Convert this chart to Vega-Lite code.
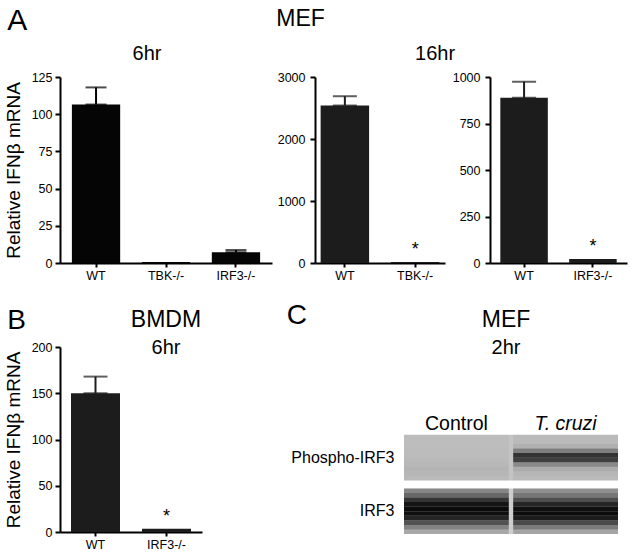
{
  "$schema": "https://vega.github.io/schema/vega-lite/v6.json",
  "background": "white",
  "padding": {"left": 4, "top": 6, "right": 5, "bottom": 5},
  "config": {
    "font": "Liberation Sans",
    "view": {"stroke": null},
    "axis": {"domainColor": "#000", "domainWidth": 2, "tickColor": "#000", "tickWidth": 2, "labelColor": "#000", "titleColor": "#000", "labelFont": "Liberation Sans", "titleFont": "Liberation Sans", "labelFontSize": 12.5, "grid": false, "titleFontWeight": "normal"},
    "title": {"font": "Liberation Sans", "fontWeight": "normal", "color": "#000", "subtitleFont": "Liberation Sans", "subtitleColor": "#000"}
  },
  "spacing": 20,
  "vconcat": [
    {
      "title": {"text": "A", "anchor": "start", "frame": "bounds", "fontSize": 30, "dy": 32, "dx": 3},
      "vconcat": [
        {
          "title": {"text": "MEF", "fontSize": 23, "anchor": "middle", "frame": "bounds", "dx": -15, "offset": 13},
          "spacing": 5,
          "hconcat": [
            {
              "width": 212, "height": 186,
              "title": {"text": "6hr", "fontSize": 20, "offset": 7, "dx": -19},
              "data": {"values": [
                {"genotype": "WT", "value": 106.5, "upper": 118},
                {"genotype": "TBK-/-", "value": 0.6, "upper": null},
                {"genotype": "IRF3-/-", "value": 7.2, "upper": 8.7}
              ]},
              "encoding": {
                "x": {"field": "genotype", "type": "nominal", "sort": null, "scale": {"paddingInner": 0.31, "paddingOuter": 0.17}, "axis": {"title": null, "labelAngle": 0, "tickSize": 4, "labelPadding": 2}},
                "y": {"field": "value", "type": "quantitative", "scale": {"domain": [0, 125]}, "axis": {"values": [0, 25, 50, 75, 100, 125], "title": "Relative IFNβ mRNA", "titleFontSize": 19, "tickSize": 5, "labelPadding": 3, "titlePadding": 8}}
              },
              "layer": [
                {"mark": {"type": "bar", "color": "#050505"}},
                {"transform": [{"filter": "datum.upper != null"}], "mark": {"type": "errorbar", "color": "#000", "rule": {"strokeWidth": 2}, "ticks": {"size": 21, "thickness": 2}}, "encoding": {"y2": {"field": "upper"}}}
              ]
            },
            {
              "title": {"text": "16hr", "fontSize": 20, "anchor": "middle", "frame": "bounds", "dx": -17, "offset": 7},
              "spacing": 7,
              "hconcat": [
                {
                  "width": 130, "height": 186,
                  "data": {"values": [
                    {"genotype": "WT", "value": 2540, "upper": 2690, "sig": null},
                    {"genotype": "TBK-/-", "value": 15, "upper": null, "sig": "*"}
                  ]},
                  "encoding": {
                    "x": {"field": "genotype", "type": "nominal", "sort": null, "scale": {"paddingInner": 0.31, "paddingOuter": 0.08}, "axis": {"title": null, "labelAngle": 0, "tickSize": 4, "labelPadding": 2}},
                    "y": {"field": "value", "type": "quantitative", "scale": {"domain": [0, 3000]}, "axis": {"values": [0, 1000, 2000, 3000], "format": "d", "title": null, "tickSize": 5, "labelPadding": 5}}
                  },
                  "layer": [
                    {"mark": {"type": "bar", "color": "#1c1c1c"}},
                    {"transform": [{"filter": "datum.upper != null"}], "mark": {"type": "errorbar", "color": "#1c1c1c", "rule": {"strokeWidth": 2}, "ticks": {"size": 24, "thickness": 2}}, "encoding": {"y2": {"field": "upper"}}},
                    {"transform": [{"filter": "datum.sig != null"}], "mark": {"type": "text", "fontSize": 18, "baseline": "alphabetic", "dy": -7, "color": "#000"}, "encoding": {"text": {"field": "sig"}}}
                  ]
                },
                {
                  "width": 137, "height": 186,
                  "data": {"values": [
                    {"genotype": "WT", "value": 888, "upper": 975, "sig": null},
                    {"genotype": "IRF3-/-", "value": 22, "upper": null, "sig": "*"}
                  ]},
                  "encoding": {
                    "x": {"field": "genotype", "type": "nominal", "sort": null, "scale": {"paddingInner": 0.31, "paddingOuter": 0.15}, "axis": {"title": null, "labelAngle": 0, "tickSize": 4, "labelPadding": 2}},
                    "y": {"field": "value", "type": "quantitative", "scale": {"domain": [0, 1000]}, "axis": {"values": [0, 250, 500, 750, 1000], "format": "d", "title": null, "tickSize": 5, "labelPadding": 5}}
                  },
                  "layer": [
                    {"mark": {"type": "bar", "color": "#1c1c1c"}},
                    {"transform": [{"filter": "datum.upper != null"}], "mark": {"type": "errorbar", "color": "#1c1c1c", "rule": {"strokeWidth": 2}, "ticks": {"size": 24, "thickness": 2}}, "encoding": {"y2": {"field": "upper"}}},
                    {"transform": [{"filter": "datum.sig != null"}], "mark": {"type": "text", "fontSize": 18, "baseline": "alphabetic", "dy": -7, "color": "#000"}, "encoding": {"text": {"field": "sig"}}}
                  ]
                }
              ]
            }
          ]
        }
      ]
    },
    {
      "spacing": 84,
      "hconcat": [
        {
          "title": {"text": "B", "anchor": "start", "frame": "bounds", "fontSize": 28, "dy": 30, "dx": 3},
          "vconcat": [
            {
              "width": 142, "height": 185,
              "title": {"text": "BMDM", "subtitle": "6hr", "fontSize": 23, "subtitleFontSize": 20, "subtitlePadding": 6, "offset": 4, "dy": 21, "dx": 35},
              "data": {"values": [
                {"genotype": "WT", "value": 150, "upper": 168, "sig": null},
                {"genotype": "IRF3-/-", "value": 3.5, "upper": null, "sig": "*"}
              ]},
              "encoding": {
                "x": {"field": "genotype", "type": "nominal", "sort": null, "scale": {"paddingInner": 0.31, "paddingOuter": 0.155}, "axis": {"title": null, "labelAngle": 0, "tickSize": 4, "labelPadding": 2}},
                "y": {"field": "value", "type": "quantitative", "scale": {"domain": [0, 200]}, "axis": {"values": [0, 50, 100, 150, 200], "title": "Relative IFNβ mRNA", "titleFontSize": 19, "tickSize": 5, "labelPadding": 3, "titlePadding": 8}}
              },
              "layer": [
                {"mark": {"type": "bar", "color": "#1c1c1c"}},
                {"transform": [{"filter": "datum.upper != null"}], "mark": {"type": "errorbar", "color": "#1c1c1c", "rule": {"strokeWidth": 2}, "ticks": {"size": 24, "thickness": 2}}, "encoding": {"y2": {"field": "upper"}}},
                {"transform": [{"filter": "datum.sig != null"}], "mark": {"type": "text", "fontSize": 18, "baseline": "alphabetic", "dy": -7, "color": "#000"}, "encoding": {"text": {"field": "sig"}}}
              ]
            }
          ]
        },
        {
          "title": {"text": "C", "anchor": "start", "frame": "bounds", "fontSize": 28, "dy": 25, "dx": -4},
          "vconcat": [
            {
              "width": 214, "height": 187,
              "title": {"text": "MEF", "subtitle": "2hr", "fontSize": 23, "subtitleFontSize": 20, "subtitlePadding": 6, "offset": 4, "dy": 15, "dx": -5},
              "layer": [
                {
                  "data": {"values": [
                    {"protein": "Phospho-IRF3"},
                    {"protein": "IRF3"}
                  ]},
                  "mark": {"type": "rect"},
                  "encoding": {
                    "y": {"field": "protein", "type": "nominal", "sort": ["Phospho-IRF3", "IRF3"], "scale": {"paddingInner": 0.15, "paddingOuter": 0.82, "align": 1}, "axis": {"title": null, "orient": "left", "domain": false, "ticks": false, "labelFontSize": 16, "labelPadding": 10}},
                    "fill": {"field": "protein", "type": "nominal", "scale": {"domain": ["Phospho-IRF3", "IRF3"], "range": ["#c4c4c4", "#cecece"]}, "legend": null}
                  }
                },
                {
                  "data": {"values": [
                    {"lane": "Control", "protein": "Phospho-IRF3", "part": 0, "density": 0.03},
                    {"lane": "Control", "protein": "Phospho-IRF3", "part": 1, "density": 0.03},
                    {"lane": "Control", "protein": "Phospho-IRF3", "part": 2, "density": 0.03},
                    {"lane": "Control", "protein": "Phospho-IRF3", "part": 3, "density": 0.04},
                    {"lane": "Control", "protein": "Phospho-IRF3", "part": 4, "density": 0.04},
                    {"lane": "Control", "protein": "Phospho-IRF3", "part": 5, "density": 0.05},
                    {"lane": "Control", "protein": "Phospho-IRF3", "part": 6, "density": 0.06},
                    {"lane": "Control", "protein": "Phospho-IRF3", "part": 7, "density": 0.08},
                    {"lane": "Control", "protein": "Phospho-IRF3", "part": 8, "density": 0.07},
                    {"lane": "Control", "protein": "Phospho-IRF3", "part": 9, "density": 0.05},
                    {"lane": "T. cruzi", "protein": "Phospho-IRF3", "part": 0, "density": 0.05},
                    {"lane": "T. cruzi", "protein": "Phospho-IRF3", "part": 1, "density": 0.05},
                    {"lane": "T. cruzi", "protein": "Phospho-IRF3", "part": 2, "density": 0.1},
                    {"lane": "T. cruzi", "protein": "Phospho-IRF3", "part": 3, "density": 0.35},
                    {"lane": "T. cruzi", "protein": "Phospho-IRF3", "part": 4, "density": 0.74},
                    {"lane": "T. cruzi", "protein": "Phospho-IRF3", "part": 5, "density": 0.68},
                    {"lane": "T. cruzi", "protein": "Phospho-IRF3", "part": 6, "density": 0.3},
                    {"lane": "T. cruzi", "protein": "Phospho-IRF3", "part": 7, "density": 0.12},
                    {"lane": "T. cruzi", "protein": "Phospho-IRF3", "part": 8, "density": 0.07},
                    {"lane": "T. cruzi", "protein": "Phospho-IRF3", "part": 9, "density": 0.05},
                    {"lane": "Control", "protein": "IRF3", "part": 0, "density": 0.35},
                    {"lane": "Control", "protein": "IRF3", "part": 1, "density": 0.5},
                    {"lane": "Control", "protein": "IRF3", "part": 2, "density": 0.74},
                    {"lane": "Control", "protein": "IRF3", "part": 3, "density": 0.9},
                    {"lane": "Control", "protein": "IRF3", "part": 4, "density": 0.95},
                    {"lane": "Control", "protein": "IRF3", "part": 5, "density": 0.93},
                    {"lane": "Control", "protein": "IRF3", "part": 6, "density": 0.82},
                    {"lane": "Control", "protein": "IRF3", "part": 7, "density": 0.6},
                    {"lane": "Control", "protein": "IRF3", "part": 8, "density": 0.36},
                    {"lane": "Control", "protein": "IRF3", "part": 9, "density": 0.18},
                    {"lane": "T. cruzi", "protein": "IRF3", "part": 0, "density": 0.3},
                    {"lane": "T. cruzi", "protein": "IRF3", "part": 1, "density": 0.42},
                    {"lane": "T. cruzi", "protein": "IRF3", "part": 2, "density": 0.62},
                    {"lane": "T. cruzi", "protein": "IRF3", "part": 3, "density": 0.82},
                    {"lane": "T. cruzi", "protein": "IRF3", "part": 4, "density": 0.92},
                    {"lane": "T. cruzi", "protein": "IRF3", "part": 5, "density": 0.94},
                    {"lane": "T. cruzi", "protein": "IRF3", "part": 6, "density": 0.86},
                    {"lane": "T. cruzi", "protein": "IRF3", "part": 7, "density": 0.64},
                    {"lane": "T. cruzi", "protein": "IRF3", "part": 8, "density": 0.4},
                    {"lane": "T. cruzi", "protein": "IRF3", "part": 9, "density": 0.2}
                  ]},
                  "mark": {"type": "rect", "fill": "#000"},
                  "encoding": {
                    "x": {"field": "lane", "type": "nominal", "sort": ["Control", "T. cruzi"], "scale": {"paddingInner": 0.04, "paddingOuter": 0}, "axis": {"title": null, "orient": "top", "offset": -88, "domain": false, "ticks": false, "labelAngle": 0, "labelFontSize": 19.5, "labelPadding": 2, "labelFontStyle": {"condition": {"test": "datum.value == 'T. cruzi'", "value": "italic"}, "value": "normal"}}},
                    "y": {"field": "protein", "type": "nominal", "sort": ["Phospho-IRF3", "IRF3"], "scale": {"paddingInner": 0.15, "paddingOuter": 0.82, "align": 1}},
                    "yOffset": {"field": "part", "type": "ordinal", "scale": {"paddingInner": 0, "paddingOuter": 0}},
                    "opacity": {"field": "density", "type": "quantitative", "scale": {"domain": [0, 1], "range": [0, 1]}, "legend": null}
                  }
                }
              ]
            }
          ]
        }
      ]
    }
  ]
}
